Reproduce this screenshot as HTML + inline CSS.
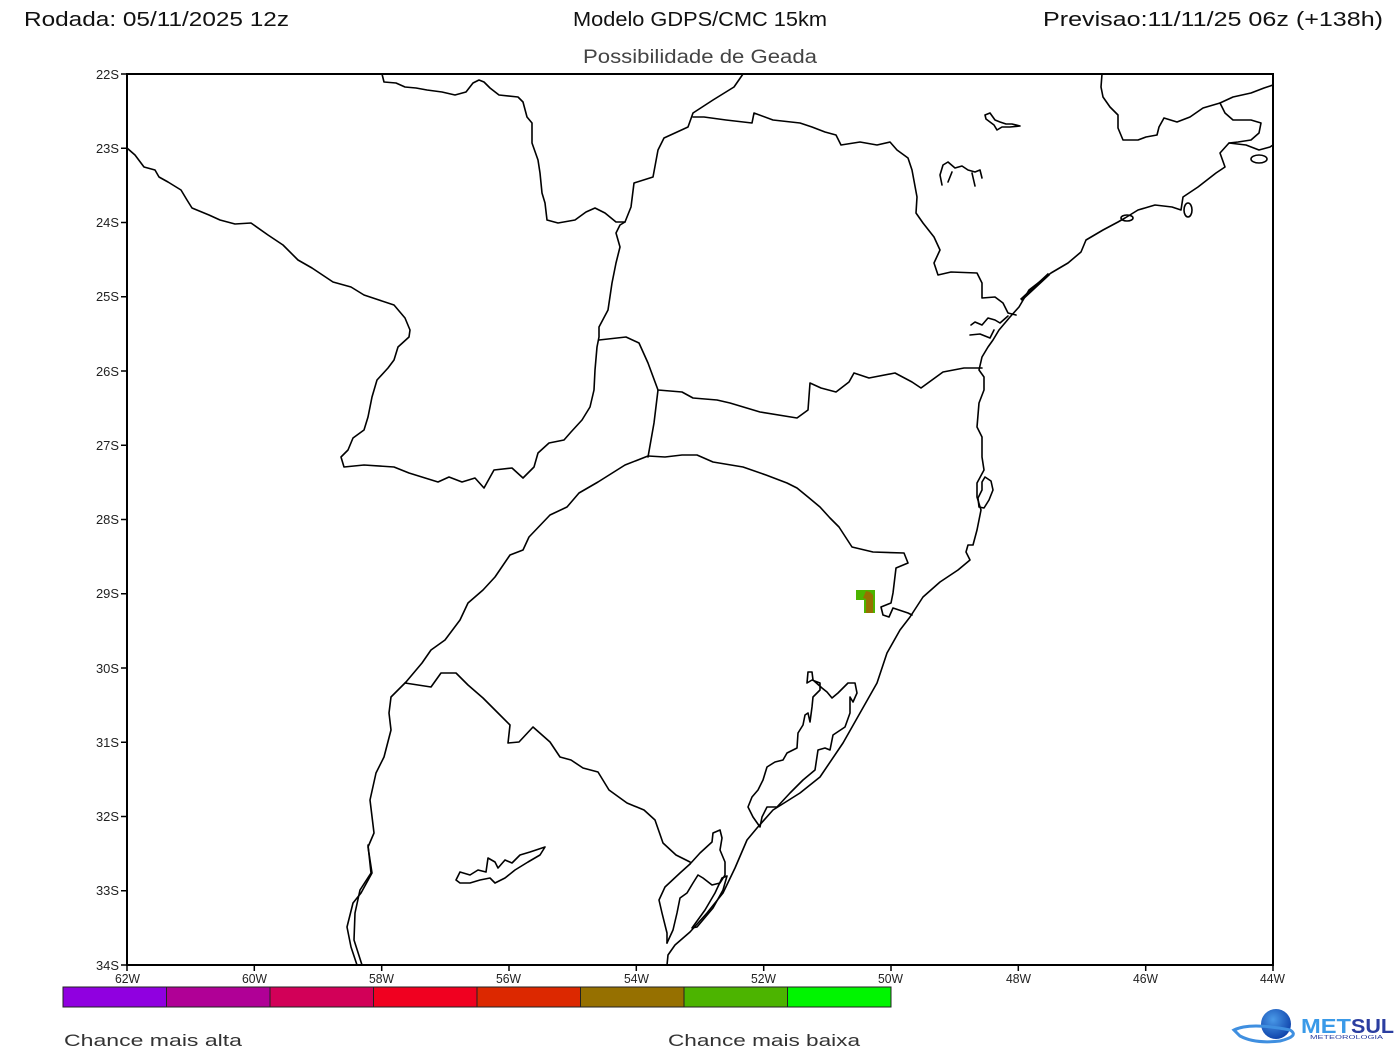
<!DOCTYPE html>
<html><head><meta charset="utf-8"><style>
html,body{margin:0;padding:0;background:#fff}
svg{display:block}
text{font-family:"Liberation Sans",sans-serif}
</style></head><body>
<svg width="1400" height="1052" viewBox="0 0 1400 1052" xmlns="http://www.w3.org/2000/svg">
<rect width="1400" height="1052" fill="#fff"/>
<!-- titles -->
<text x="24" y="26" font-size="20" fill="#111" textLength="265" lengthAdjust="spacingAndGlyphs">Rodada: 05/11/2025 12z</text>
<text x="573" y="26" font-size="20" fill="#111" textLength="254" lengthAdjust="spacingAndGlyphs">Modelo GDPS/CMC 15km</text>
<text x="1043" y="26" font-size="20" fill="#111" textLength="340" lengthAdjust="spacingAndGlyphs">Previsao:11/11/25 06z (+138h)</text>
<text x="583" y="63" font-size="19" fill="#444" textLength="234" lengthAdjust="spacingAndGlyphs">Possibilidade de Geada</text>

<!-- map lines -->
<g fill="none" stroke="#000" stroke-width="1.6" stroke-linejoin="round" stroke-linecap="round">
<polyline points="127,148 135,155 144,167 155,170 159,177 168,182 181,190 187,200 192,208 209,215 220,220 235,224 251,223 268,235 283,245 298,260 312,268 333,282 351,287 364,295 379,300 394,305 405,318 410,330 409,337 398,347 394,360 388,368 377,380 372,397 368,417 364,430 353,438 348,450 341,457 344,467 364,465 394,467 409,473 438,482 449,477 462,482 475,478 484,488 494,470 512,468 523,478 534,467 538,453 549,443 564,440 571,432 582,420 590,407 594,390 595,370 597,347 599,337 599,327 608,310 612,283 616,263 620,247 616,233 620,225 625,222 631,207 634,183 653,177 658,150 664,138 688,127 693,113 713,100 734,87 743,74"/>
<polyline points="382,74 384,82 396,83 405,87 416,88 427,90 442,92 455,95 466,92 473,83 479,80 484,82 490,88 499,95 518,97 523,102 527,117 532,123 532,143 538,160 540,173 542,193 545,203 547,220 558,223 575,220 586,212 595,208 605,213 616,222 625,222"/>
<polyline points="693,117 704,117 726,120 752,123 754,113 773,120 800,123 812,127 825,132 836,135 841,145 860,142 877,145 890,142 897,150 908,158 912,170 917,197 916,213 923,223 934,237 940,250 934,263 938,275 951,272 977,273 982,283 982,298 995,297 1003,303 1008,313 1016,315"/>
<polyline points="599,340 626,337 639,343 648,363 658,390 682,392 693,398 717,400 730,403 760,412 797,418 808,410 810,383 821,388 836,392 849,382 854,373 869,378 895,373 912,382 921,388 943,372 964,368 982,368"/>
<polyline points="658,390 654,423 648,457"/>
<polyline points="648,456 665,457 682,455 697,455 713,462 743,467 766,475 787,483 797,488 808,497 820,507 830,518 839,527 852,547 873,552 904,553 908,563 896,568 893,593 891,603 881,607 883,615 889,617 893,608 908,613 912,615"/>
<polyline points="648,456 625,465 598,482 579,493 567,507 550,515 529,537 523,550 510,555 495,577 483,590 468,603 460,620 445,640 431,650 422,663 406,682 391,697 389,713 391,730 384,757 376,773 370,800 374,833 368,847 372,873 361,893 353,903 347,927 351,947 357,965"/>
<polyline points="368,845 371,873 360,890 355,913 354,940 362,965"/>
<polyline points="405,683 418,685 431,687 441,673 456,673 468,685 483,698 498,713 510,725 508,743 519,742 533,727 550,742 560,757 571,760 583,768 598,772 609,790 627,803 644,810 655,820 663,843 676,855 690,862"/>
<!-- coast -->
<polyline points="667,965 668,955 675,945 690,932 707,913 723,893 735,868 747,840 757,828 773,810 800,793 820,777 843,743 860,713 877,683 887,653 900,630 910,617 923,597 940,582 958,570 970,560 966,552 968,545 973,545 977,530 981,510 977,497 977,483 984,470 982,457 982,437 977,427 979,403 984,390 984,377 979,370 982,357 988,347 993,340 999,330 1010,317 1019,307 1029,290 1051,273 1068,263 1081,252 1086,240 1103,230 1118,222 1125,218 1138,210 1155,205 1172,207 1181,210 1183,197 1198,187 1207,180 1216,173 1225,167 1220,153 1229,143 1246,145 1259,150 1270,147 1273,145"/>
<polygon points="985,477 991,481 993,490 989,500 984,508 979,507 978,498 982,490 982,482"/>
<!-- Lagoa dos Patos -->
<polygon points="760,827 753,817 748,807 752,797 758,790 763,780 767,767 775,762 783,760 787,753 797,748 798,733 803,725 805,715 808,713 810,722 812,707 813,697 820,690 820,683 812,680 807,683 808,672 812,672 813,680 822,688 827,692 832,698 838,693 843,688 848,683 855,683 857,693 853,702 850,697 850,713 845,727 833,735 830,750 825,748 818,750 815,770 803,780 790,793 777,807 767,807 762,817"/>
<!-- Mirim -->
<polyline points="690,864 700,853 712,842 713,833 720,830 722,838 720,850 725,862 725,875 720,883 712,885 703,878 698,875 693,883 687,893 680,898 677,913 673,930 667,943"/>
<polyline points="690,864 680,873 665,887 659,900 662,913 667,933 667,943"/>
<polygon points="692,928 705,910 715,893 722,878 727,876 723,890 713,908 697,927"/>
<!-- Uruguay lake -->
<polygon points="456,880 460,872 470,875 478,870 486,872 488,858 495,862 498,868 505,860 512,863 520,855 530,852 545,847 540,855 528,862 515,870 505,878 495,883 490,878 480,880 470,883 460,883"/>
<!-- RJ/MG -->
<polyline points="1102,74 1101,87 1103,97 1110,107 1118,115 1118,128 1123,140 1138,140 1146,137 1157,135 1159,127 1164,118 1177,122 1190,117 1203,108 1220,103 1233,97 1251,93 1264,88 1273,85"/>
<polyline points="1220,103 1225,113 1233,120 1251,120 1261,123 1259,133 1251,140 1238,142 1229,143"/>
<ellipse cx="1259" cy="159" rx="8" ry="4"/>
<ellipse cx="1188" cy="210" rx="4" ry="7"/>
<ellipse cx="1127" cy="218" rx="6" ry="3"/>
<!-- reservoirs -->
<polyline points="985,115 990,113 995,120 1000,122 1006,124 1012,124 1020,126 1010,127 1002,127 997,130 994,125 990,122 986,119 985,115"/>
<polyline points="942,185 940,175 943,165 948,162 955,168 962,166 968,170 975,172 980,170 982,178"/>
<polyline points="948,182 952,172"/>
<polyline points="972,173 975,186"/>
<!-- Paranagua -->
<polyline points="971,325 975,322 982,325 988,318 995,320 1000,323 1008,316"/>
<polyline points="970,335 980,334 990,338 994,330"/>
</g>
<line x1="1021" y1="300" x2="1049" y2="274" stroke="#000" stroke-width="3"/>

<!-- frost patch -->
<polygon points="856,590 875,590 875,613 864,613 864,600 856,600" fill="#4cb400"/>
<polygon points="863,598 866,591 870,592 873,595 873,613 866,613 866,599" fill="#967000"/>

<!-- frame -->
<rect x="127" y="74" width="1146" height="891" fill="none" stroke="#000" stroke-width="2"/>
<g stroke="#000" stroke-width="1.5">
<line x1="121" y1="74" x2="127" y2="74"/><line x1="121" y1="148.25" x2="127" y2="148.25"/>
<line x1="121" y1="222.5" x2="127" y2="222.5"/><line x1="121" y1="296.75" x2="127" y2="296.75"/>
<line x1="121" y1="371" x2="127" y2="371"/><line x1="121" y1="445.25" x2="127" y2="445.25"/>
<line x1="121" y1="519.5" x2="127" y2="519.5"/><line x1="121" y1="593.75" x2="127" y2="593.75"/>
<line x1="121" y1="668" x2="127" y2="668"/><line x1="121" y1="742.25" x2="127" y2="742.25"/>
<line x1="121" y1="816.5" x2="127" y2="816.5"/><line x1="121" y1="890.75" x2="127" y2="890.75"/>
<line x1="121" y1="965" x2="127" y2="965"/>
<line x1="127" y1="965" x2="127" y2="971"/><line x1="254.3" y1="965" x2="254.3" y2="971"/>
<line x1="381.7" y1="965" x2="381.7" y2="971"/><line x1="509" y1="965" x2="509" y2="971"/>
<line x1="636.3" y1="965" x2="636.3" y2="971"/><line x1="763.7" y1="965" x2="763.7" y2="971"/>
<line x1="891" y1="965" x2="891" y2="971"/><line x1="1018.3" y1="965" x2="1018.3" y2="971"/>
<line x1="1145.7" y1="965" x2="1145.7" y2="971"/><line x1="1273" y1="965" x2="1273" y2="971"/>
</g>
<g font-size="13" fill="#222" text-anchor="end">
<text x="119" y="79" textLength="23" lengthAdjust="spacingAndGlyphs">22S</text>
<text x="119" y="153" textLength="23" lengthAdjust="spacingAndGlyphs">23S</text>
<text x="119" y="227" textLength="23" lengthAdjust="spacingAndGlyphs">24S</text>
<text x="119" y="301" textLength="23" lengthAdjust="spacingAndGlyphs">25S</text>
<text x="119" y="376" textLength="23" lengthAdjust="spacingAndGlyphs">26S</text>
<text x="119" y="450" textLength="23" lengthAdjust="spacingAndGlyphs">27S</text>
<text x="119" y="524" textLength="23" lengthAdjust="spacingAndGlyphs">28S</text>
<text x="119" y="598" textLength="23" lengthAdjust="spacingAndGlyphs">29S</text>
<text x="119" y="673" textLength="23" lengthAdjust="spacingAndGlyphs">30S</text>
<text x="119" y="747" textLength="23" lengthAdjust="spacingAndGlyphs">31S</text>
<text x="119" y="821" textLength="23" lengthAdjust="spacingAndGlyphs">32S</text>
<text x="119" y="895" textLength="23" lengthAdjust="spacingAndGlyphs">33S</text>
<text x="119" y="970" textLength="23" lengthAdjust="spacingAndGlyphs">34S</text>
</g>
<g font-size="13" fill="#222">
<text x="115" y="983" textLength="25" lengthAdjust="spacingAndGlyphs">62W</text>
<text x="242" y="983" textLength="25" lengthAdjust="spacingAndGlyphs">60W</text>
<text x="369" y="983" textLength="25" lengthAdjust="spacingAndGlyphs">58W</text>
<text x="496" y="983" textLength="25" lengthAdjust="spacingAndGlyphs">56W</text>
<text x="624" y="983" textLength="25" lengthAdjust="spacingAndGlyphs">54W</text>
<text x="751" y="983" textLength="25" lengthAdjust="spacingAndGlyphs">52W</text>
<text x="878" y="983" textLength="25" lengthAdjust="spacingAndGlyphs">50W</text>
<text x="1006" y="983" textLength="25" lengthAdjust="spacingAndGlyphs">48W</text>
<text x="1133" y="983" textLength="25" lengthAdjust="spacingAndGlyphs">46W</text>
<text x="1260" y="983" textLength="25" lengthAdjust="spacingAndGlyphs">44W</text>
</g>

<!-- colorbar -->
<g stroke="#222" stroke-width="1">
<rect x="63" y="987" width="103.5" height="20" fill="#9000e0"/>
<rect x="166.5" y="987" width="103.5" height="20" fill="#b00096"/>
<rect x="270" y="987" width="103.5" height="20" fill="#d20058"/>
<rect x="373.5" y="987" width="103.5" height="20" fill="#f00020"/>
<rect x="477" y="987" width="103.5" height="20" fill="#dc2800"/>
<rect x="580.5" y="987" width="103.5" height="20" fill="#967000"/>
<rect x="684" y="987" width="103.5" height="20" fill="#4cb400"/>
<rect x="787.5" y="987" width="103.5" height="20" fill="#00f500"/>
</g>
<text x="64" y="1046" font-size="17" fill="#333" textLength="178" lengthAdjust="spacingAndGlyphs">Chance mais alta</text>
<text x="668" y="1046" font-size="17" fill="#333" textLength="192" lengthAdjust="spacingAndGlyphs">Chance mais baixa</text>

<!-- logo -->
<defs>
<radialGradient id="gl" cx="0.4" cy="0.35" r="0.7">
<stop offset="0" stop-color="#4a9ae8"/><stop offset="1" stop-color="#0c3fa8"/>
</radialGradient>
</defs>
<circle cx="1276" cy="1024" r="15" fill="url(#gl)"/>
<path d="M1234,1030 Q1250,1022 1290,1030 Q1300,1036 1280,1041 Q1255,1044 1240,1036 Z" fill="none" stroke="#3f8fe0" stroke-width="3"/>
<text x="1301" y="1033" font-size="20" font-weight="bold" fill="#3a9ae8" textLength="50" lengthAdjust="spacingAndGlyphs">MET</text>
<text x="1351" y="1033" font-size="20" font-weight="bold" fill="#2b3ea0" textLength="43" lengthAdjust="spacingAndGlyphs">SUL</text>
<text x="1310" y="1039" font-size="5" fill="#2b3ea0" textLength="73" lengthAdjust="spacingAndGlyphs">METEOROLOGIA</text>
</svg>
</body></html>
